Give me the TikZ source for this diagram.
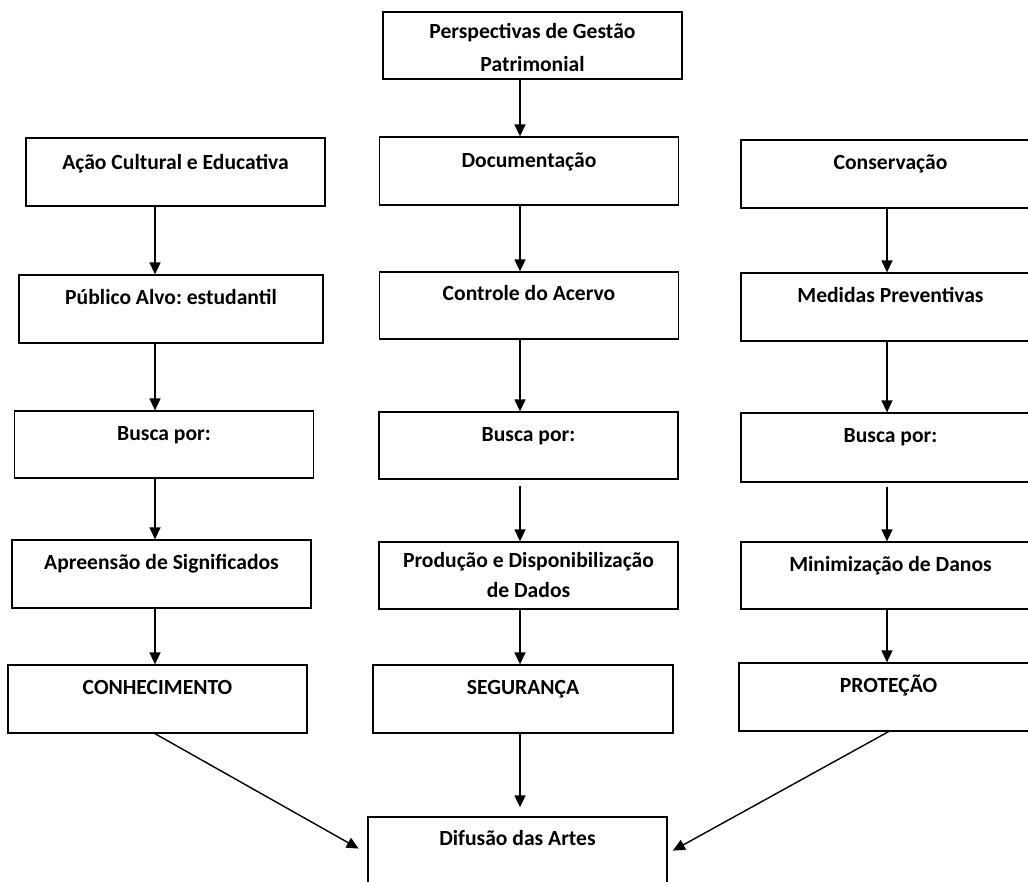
\documentclass[tikz,border=0pt]{standalone}
\usepackage{fontspec}
\setmainfont{Carlito}
\frenchspacing
\usetikzlibrary{arrows.meta,positioning}
\tikzset{
  stagebox/.style={draw, line width=1.3pt, align=center, inner sep=0pt,
    font=\fontsize{21.6}{31}\selectfont\bfseries,
    minimum width=299pt, text height=29pt, text depth=39pt},
  stagearrow/.style={-{Triangle[length=12pt,width=11pt]}, line width=1.4pt}
}

\begin{document}
\begin{tikzpicture}[x=1pt, y=-1pt]
    \useasboundingbox (0,0) rectangle (1028,881);
    % column axes for the arrows
    \coordinate (cL) at (155,0);
    \coordinate (cM) at (520,0);
    \coordinate (cR) at (887,0);

    \node[stagebox, text height=59pt, text depth=8pt] (top) at (532.5,45.5) {Perspectivas de Gestão\\[2pt]Patrimonial};

    % left column
    \node[stagebox, text height=31pt, text depth=37pt] (acao) at (175.5,172) {Ação Cultural e Educativa};
    \node[stagebox, minimum width=304pt] (publico) at (171,309) {Público Alvo: estudantil};
    \node[stagebox, text depth=38pt] (buscaA) at (164,444.5) {Busca por:};
    \node[stagebox] (apreensao) at (161.5,574) {Apreensão de Significados};
    \node[stagebox] (conhec) at (157.5,699) {CONHECIMENTO};

    % middle column
    \node[stagebox, text height=30pt, text depth=38pt] (doc) at (529,171) {Documentação};
    \node[stagebox, text height=28pt, text depth=39pt] (controle) at (529,305.5) {Controle do Acervo};
    \node[stagebox, text depth=38pt] (buscaB) at (528.5,445.5) {Busca por:};
    \node[stagebox, text height=55pt, text depth=12pt] (producao) at (528.5,575.5) {Produção e Disponibilização\\[-1pt]de Dados};
    \node[stagebox, minimum width=300pt] (seguranca) at (523,699) {SEGURANÇA};

    % right column
    \node[stagebox] (cons) at (890.5,174) {Conservação};
    \node[stagebox] (medidas) at (890.5,307) {Medidas Preventivas};
    \node[stagebox, text depth=40pt] (buscaC) at (890.5,447.5) {Busca por:};
    \node[stagebox, text depth=38pt] (minim) at (890.5,575.5) {Minimização de Danos};
    \node[stagebox] (protecao) at (888.5,697) {PROTEÇÃO};

    \node[stagebox, text height=28pt, text depth=45pt] (difusao) at (517.5,853.5) {Difusão das Artes};

    \draw[stagearrow] (top.south -| cM) -- (doc.north -| cM);
    \draw[stagearrow] (acao.south -| cL) -- (publico.north -| cL);
    \draw[stagearrow] (publico.south -| cL) -- (buscaA.north -| cL);
    \draw[stagearrow] (buscaA.south -| cL) -- (apreensao.north -| cL);
    \draw[stagearrow] (apreensao.south -| cL) -- (conhec.north -| cL);
    \draw[stagearrow] (doc.south -| cM) -- (controle.north -| cM);
    \draw[stagearrow] (controle.south -| cM) -- (buscaB.north -| cM);
    \draw[stagearrow, shorten <=6pt] (buscaB.south -| cM) -- (producao.north -| cM);
    \draw[stagearrow] (producao.south -| cM) -- (seguranca.north -| cM);
    \draw[stagearrow] (cons.south -| cR) -- (medidas.north -| cR);
    \draw[stagearrow] (medidas.south -| cR) -- (buscaC.north -| cR);
    \draw[stagearrow, shorten <=4pt] (buscaC.south -| cR) -- (minim.north -| cR);
    \draw[stagearrow] (minim.south -| cR) -- (protecao.north -| cR);
    \draw[stagearrow, shorten >=10pt] (conhec.south -| cL) -- (difusao.west);
    \draw[stagearrow, shorten >=9pt] (seguranca.south -| cM) -- (difusao.north -| cM);
    \draw[stagearrow, shorten >=6pt] (protecao.south) -- (difusao.east);
  \end{tikzpicture}
\end{document}
